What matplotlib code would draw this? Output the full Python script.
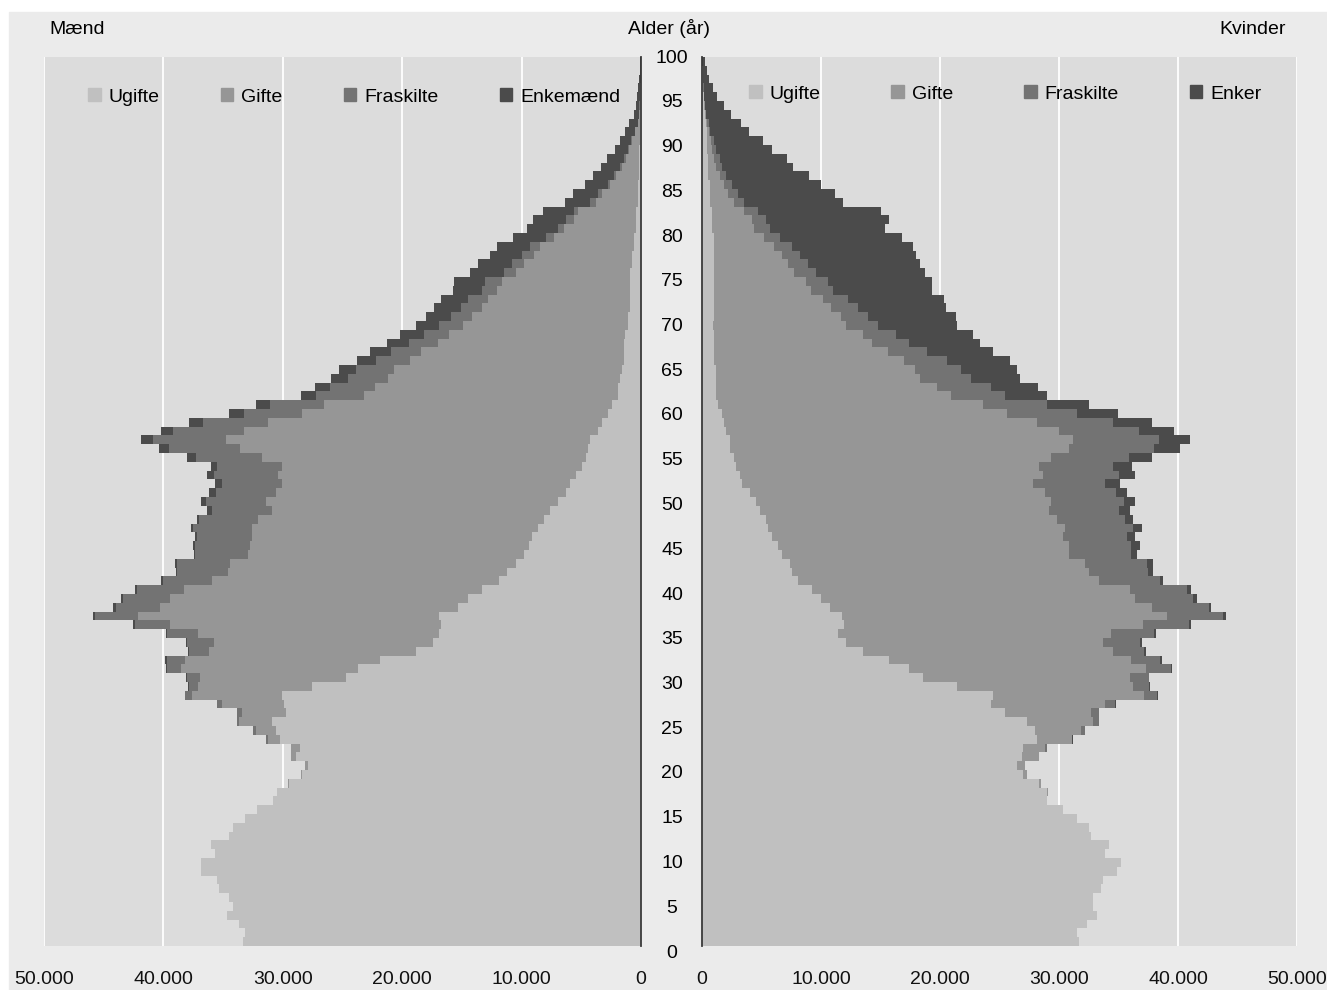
import numpy as np
import matplotlib
matplotlib.use("Agg")
import matplotlib.pyplot as plt
from matplotlib.patches import Patch, Rectangle

plt.rcParams['font.family'] = ['Liberation Sans', 'DejaVu Sans']

ages = np.arange(0, 101)

# men (Mænd), one value per age 0..100
m_ugifte = [33340, 33180, 33660, 34670, 34180, 34510, 35350, 35510, 36870, 36870,
            35710, 36030, 34510, 34180, 33180, 32170, 30810, 30490, 29480, 28380,
            27900, 28930, 28540, 30230, 30550, 30910, 29710, 29910, 30070, 27540,
            24690, 23680, 21840, 18820, 17460, 16950, 16720, 16950, 15360, 14520,
            13350, 11920, 11240, 10500, 9820, 9400, 9140, 8650, 8130, 7650,
            6970, 6290, 5960, 5440, 4960, 4630, 4440, 4280, 3600, 3270,
            2750, 2430, 1940, 1940, 1780, 1620, 1460, 1460, 1460, 1300,
            1130, 1070, 910, 910, 910, 910, 910, 750, 750, 580,
            580, 420, 420, 420, 290, 290, 290, 160, 160, 160,
            130, 100, 100, 100, 60, 40, 30, 20, 15, 10, 10]
m_gifte = [0, 0, 0, 0, 0, 0, 0, 0, 0, 0,
           0, 0, 0, 0, 0, 0, 0, 20, 60, 130,
           230, 360, 750, 1000, 1690, 2750, 3690, 5180, 7550, 9590,
           12250, 14870, 16360, 17370, 18310, 20190, 22750, 25210, 24950, 24950,
           24950, 24010, 23360, 23940, 23100, 23360, 23460, 23940, 23940, 23260,
           24430, 24270, 24110, 24950, 25110, 27120, 29160, 30490, 29650, 27960,
           25630, 24110, 21220, 20320, 19380, 19050, 17850, 16950, 15580, 14740,
           13740, 13120, 12440, 11920, 11110, 10760, 9590, 9070, 8230, 7910,
           6710, 6060, 5220, 4860, 3500, 2980, 2300, 1940, 1460, 1130,
           870, 650, 390, 130, 100, 80, 50, 30, 20, 12, 10]
m_fraskilte = [0, 0, 0, 0, 0, 0, 0, 0, 0, 0,
               0, 0, 0, 0, 0, 0, 0, 0, 0, 0,
               0, 0, 0, 160, 260, 160, 420, 420, 580, 750,
               1100, 1170, 1460, 1690, 2270, 2590, 2950, 3600, 3690, 3890,
               3950, 4110, 4280, 4440, 4440, 4600, 4570, 4930, 4960, 5020,
               5050, 5060, 5020, 5380, 5440, 5540, 5960, 6060, 5960, 5480,
               4860, 4540, 4050, 3760, 3370, 3180, 2850, 2500, 2430, 2170,
               2010, 1690, 1750, 1620, 1330, 1360, 1000, 1010, 1000, 840,
               680, 490, 680, 360, 490, 320, 160, 160, 160, 160,
               130, 60, 40, 30, 20, 10, 10, 5, 5, 3, 2]
m_enkemaend = [0, 0, 0, 0, 0, 0, 0, 0, 0, 0,
               0, 0, 0, 0, 0, 0, 0, 0, 0, 0,
               0, 0, 0, 0, 0, 10, 10, 20, 20, 30,
               40, 40, 230, 60, 70, 80, 90, 100, 260, 230,
               120, 130, 100, 160, 70, 160, 190, 200, 160, 420,
               420, 580, 580, 580, 520, 750, 840, 1070, 1000, 1170,
               1260, 1170, 1260, 1260, 1430, 1430, 1590, 1780, 1780, 1940,
               1940, 2110, 2200, 2330, 2430, 2590, 2790, 2790, 2630, 2750,
               2790, 2590, 2750, 2590, 2110, 2110, 1940, 1750, 1590, 1390,
               1040, 940, 800, 740, 400, 320, 240, 175, 120, 75, 58]

# women (Kvinder)
k_ugifte = [31680, 31510, 32350, 33190, 32860, 32860, 33500, 33670, 34850, 35180,
            33830, 34170, 32690, 32520, 31510, 30330, 28980, 28980, 28300, 26960,
            26450, 26900, 26950, 28120, 27960, 27280, 25430, 24270, 24430, 21420,
            18570, 17400, 15710, 13540, 12120, 11410, 11920, 11760, 10760, 10040,
            9230, 8070, 7550, 7390, 6710, 6380, 5860, 5540, 5380, 4860,
            4540, 4020, 3370, 3180, 2850, 2690, 2330, 2330, 2010, 1850,
            1690, 1360, 1170, 1170, 1170, 1170, 1000, 1000, 1000, 1000,
            900, 970, 970, 970, 970, 970, 970, 970, 970, 970,
            970, 810, 810, 810, 650, 650, 650, 490, 490, 490,
            390, 390, 390, 320, 260, 200, 150, 100, 70, 50, 30]
k_gifte = [0, 0, 0, 0, 0, 0, 0, 0, 0, 0,
           0, 0, 0, 0, 0, 0, 0, 60, 180, 340,
           680, 1400, 1880, 2950, 3890, 5570, 7260, 9590, 12700, 14780,
           17400, 19890, 20320, 21000, 21580, 22940, 25110, 27280, 27050, 26340,
           26730, 25270, 24950, 24790, 24140, 24460, 24460, 24950, 24430, 24300,
           24790, 24790, 24430, 25470, 25470, 26630, 28510, 28840, 27990, 26310,
           23940, 22260, 19760, 18570, 17140, 16720, 15970, 14610, 13280, 12540,
           11220, 10720, 9910, 9230, 8230, 7740, 6740, 6220, 5740, 5090,
           4240, 3560, 3400, 2690, 2040, 1520, 1200, 1040, 680, 520,
           450, 360, 160, 130, 65, 50, 30, 20, 10, 5, 3]
k_fraskilte = [0, 0, 0, 0, 0, 0, 0, 0, 0, 0,
               0, 0, 0, 0, 0, 0, 0, 0, 0, 0,
               0, 0, 160, 60, 320, 490, 650, 840, 1130, 1330,
               1560, 2140, 2430, 2590, 3110, 3600, 3920, 4760, 4800, 4890,
               4760, 5120, 5020, 5180, 5180, 5180, 5380, 5700, 5740, 5860,
               6120, 5960, 6060, 6380, 6220, 6550, 7130, 7230, 6710, 6380,
               5870, 5380, 4540, 4540, 4310, 3890, 3600, 3310, 3110, 2750,
               2660, 2270, 2200, 2040, 1850, 1850, 1850, 1690, 1490, 1490,
               1330, 1330, 1130, 1200, 810, 840, 680, 490, 520, 490,
               320, 230, 100, 100, 30, 20, 15, 10, 5, 3, 2]
k_enker = [0, 0, 0, 0, 0, 0, 0, 0, 0, 0,
           0, 0, 0, 0, 0, 0, 0, 0, 0, 0,
           0, 0, 0, 30, 30, 30, 50, 65, 50, 100,
           50, 50, 160, 160, 160, 160, 160, 260, 190, 360,
           390, 320, 420, 580, 550, 750, 710, 750, 710, 910,
           970, 970, 1230, 1390, 1560, 1940, 2170, 2590, 2920, 3270,
           3430, 3560, 3530, 3920, 4120, 4730, 5280, 5570, 5930, 6450,
           6640, 7390, 7420, 8100, 8300, 8780, 9140, 9460, 9820, 10140,
           10300, 9660, 10340, 10300, 8330, 8130, 7450, 6970, 5930, 5640,
           4760, 4120, 3270, 2690, 2080, 1600, 1030, 800, 530, 390, 250]

m_labels = ['Ugifte', 'Gifte', 'Fraskilte', 'Enkemænd']
k_labels = ['Ugifte', 'Gifte', 'Fraskilte', 'Enker']
colors = ['#c0c0c0', '#969696', '#737373', '#4b4b4b']
x_ticks = [0, 10000, 20000, 30000, 40000, 50000]

W, H = 1327, 990
FS = 14


def stack(ax, series, labels):
    left = np.zeros(len(ages))
    for vals, col, lab in zip(series, colors, labels):
        ax.barh(ages, vals, left=left, height=1.0, color=col,
                linewidth=0, label=lab, zorder=2)
        left = left + np.array(vals)


def style(ax, zero_side):
    ax.set_facecolor('#dcdcdc')
    ax.set_ylim(-0.5, 100.5)
    ax.set_yticks([])
    ax.set_xticks(x_ticks)
    ax.set_xticklabels([f"{v:,}".replace(",", ".") for v in x_ticks])
    ax.grid(axis='x', color='white', linewidth=1.3, zorder=1)
    ax.set_axisbelow(True)
    ax.tick_params(axis='x', length=0, pad=18, labelsize=FS, colors='#111111')
    for side in ['top', 'bottom', 'left', 'right']:
        ax.spines[side].set_visible(side == zero_side)
    ax.spines[zero_side].set_color('#3a3a3a')
    ax.spines[zero_side].set_linewidth(1.3)
    ax.spines[zero_side].set_zorder(3)


fig = plt.figure(figsize=(W / 100, H / 100), dpi=100)
fig.patch.set_facecolor('white')
fig.add_artist(Rectangle((9 / W, 0), 1 - 9 / W, (H - 12) / H,
                         transform=fig.transFigure, color='#ebebeb', zorder=-10))

ax_m = fig.add_axes([44 / W, 44 / H, 597 / W, 889 / H])
ax_k = fig.add_axes([702 / W, 44 / H, 595 / W, 889 / H])

stack(ax_m, [m_ugifte, m_gifte, m_fraskilte, m_enkemaend], m_labels)
stack(ax_k, [k_ugifte, k_gifte, k_fraskilte, k_enker], k_labels)

ax_m.set_xlim(50000, 0)
ax_k.set_xlim(0, 50000)
style(ax_m, 'right')
style(ax_k, 'left')

# legends
leg_kw = dict(ncol=4, loc='center left', frameon=False, handlelength=0.65,
              handleheight=0.65, handletextpad=0.4, borderpad=0,
              borderaxespad=0, fontsize=FS)
ax_m.legend(handles=[Patch(color=c, label=l) for c, l in zip(colors, m_labels)],
            bbox_to_anchor=((88 - 44) / 597, (946 - 97) / 889),
            columnspacing=3.15, **leg_kw)
ax_k.legend(handles=[Patch(color=c, label=l) for c, l in zip(colors, k_labels)],
            bbox_to_anchor=((749 - 702) / 595, (946 - 94) / 889),
            columnspacing=3.65, **leg_kw)

# headers
fig.text(49 / W, (H - 30) / H, 'Mænd', ha='left', va='center', fontsize=FS)
fig.text(669 / W, (H - 28) / H, 'Alder (år)', ha='center', va='center', fontsize=FS)
fig.text(1286 / W, (H - 30) / H, 'Kvinder', ha='right', va='center', fontsize=FS)

# age labels in the centre column
for k in range(0, 101, 5):
    fig.text(672 / W, (H - (953 - k * 8.95)) / H, str(k),
             ha='center', va='center', fontsize=FS)

fig.savefig('out.png', dpi=100, facecolor=fig.get_facecolor())
